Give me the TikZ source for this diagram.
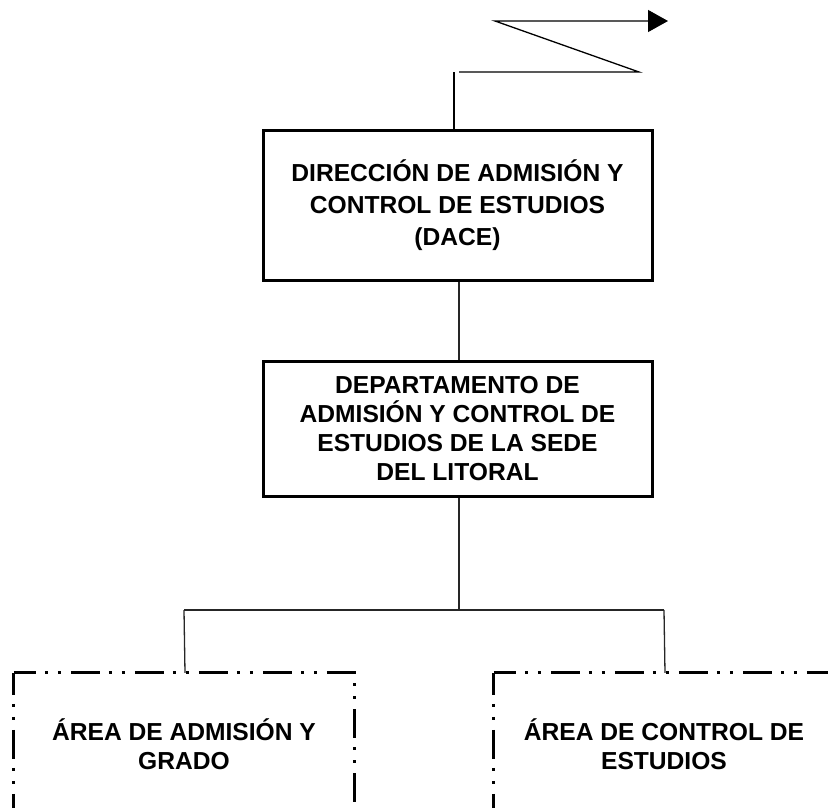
\documentclass[tikz,border=0pt]{standalone}
\usepackage{fontspec}
\setmainfont{Liberation Sans}
\usepackage{tikz}
\usetikzlibrary{arrows.meta,positioning}

\begin{document}
\begin{tikzpicture}[
  x=1pt, y=-1pt,
  >={Triangle[length=20pt,width=22pt]},
  unit/.style={rectangle, draw, line width=3pt, align=center, inner sep=2pt,
               minimum width=389pt, font=\bfseries\fontsize{24.6pt}{32pt}\selectfont},
  area/.style={rectangle, align=center, inner sep=0pt, minimum width=340pt,
               minimum height=142pt, font=\bfseries\fontsize{24.6pt}{29pt}\selectfont},
  frame/.style={line width=3pt, dash pattern=on 29pt off 9pt on 3pt off 10pt on 3pt off 10pt,
                dash phase=7pt},
  link/.style={line width=1.3pt, black!85},
]
\useasboundingbox (0,0) rectangle (828,808);
\clip (0,0) rectangle (828,808);

% Direction and department
\node[unit, minimum height=150pt] (dace) at (457.5,205)
  {DIRECCIÓN DE ADMISIÓN Y\\ CONTROL DE ESTUDIOS\\ (DACE)};
\node[unit, minimum height=135pt, font=\bfseries\fontsize{24.6pt}{29pt}\selectfont] (dep) at (457.5,428.5)
  {DEPARTAMENTO DE\\ ADMISIÓN Y CONTROL DE\\ ESTUDIOS DE LA SEDE\\ DEL LITORAL};

% Areas (cut by the lower and right margins)
\node[area] (admis) at (184,744) {ÁREA DE ADMISIÓN Y\\ GRADO};
\node[area] (contr) at (664,744) {ÁREA DE CONTROL DE\\ ESTUDIOS};
\foreach \a in {admis,contr} {
  \draw[frame] (\a.north west) -- (\a.south west);
  \draw[frame] (\a.north west) -- (\a.north east) -- (\a.south east);
}

% Link upwards, continued elsewhere
\coordinate (up)   at (454,72);
\coordinate (zr)   at (459,72);
\coordinate (zb)   at (639,72);
\coordinate (zt)   at (495,21);
\coordinate (zend) at (668,21);
\draw[link, black] ([xshift=-3.5pt]dace.north) -- (up);
\draw[link, black, ->] (zr) -- (zb) -- (zt) -- (zend);

% Tree links
\coordinate (fork) at (459,610);
\draw[link] ([xshift=1.5pt]dace.south) -- ([xshift=1.5pt]dep.north);
\draw[link] ([xshift=1.5pt]dep.south) -- (fork);
\draw[link] (admis.north |- fork) -- (contr.north |- fork);
\draw[link] (admis.north |- fork) -- ([xshift=1pt]admis.north);
\draw[link] (contr.north |- fork) -- ([xshift=1pt]contr.north);

\end{tikzpicture}
\end{document}
